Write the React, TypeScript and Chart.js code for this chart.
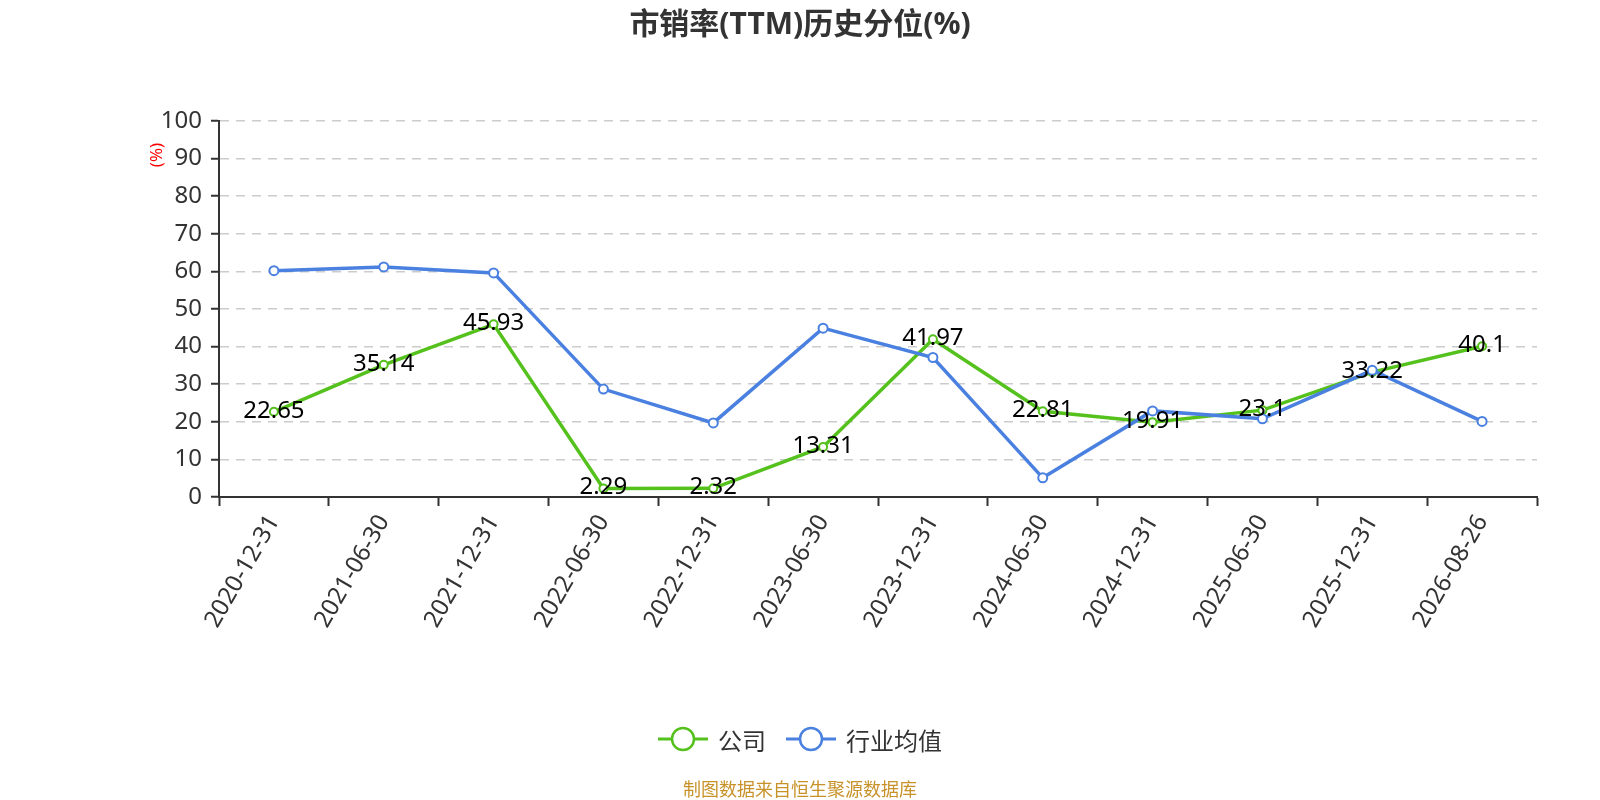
import { useEffect, useRef } from "react"
import { Chart, registerables, type ChartOptions, type Plugin } from "chart.js"
Chart.register(...registerables)

const DATES = [
  "2020-12-31", "2021-06-30", "2021-12-31", "2022-06-30", "2022-12-31", "2023-06-30",
  "2023-12-31", "2024-06-30", "2024-12-31", "2025-06-30", "2025-12-31", "2026-08-26",
]
// 公司
const COMPANY = [22.65, 35.14, 45.93, 2.29, 2.32, 13.31, 41.97, 22.81, 19.91, 23.1, 33.22, 40.1]
// 行业均值
const INDUSTRY = [60.2, 61.2, 59.6, 28.7, 19.7, 44.9, 37.1, 5.1, 22.9, 20.8, 33.7, 20.1]

const GREEN = "#55c11d"
const BLUE = "#4a80e0"
const FONT = "'Noto Sans', 'Noto Sans CJK SC', sans-serif"

// value labels on the company line + the red "(%)" unit next to the y axis
const labelsPlugin: Plugin<"line"> = {
  id: "pointLabels",
  afterDatasetsDraw(chart) {
    const { ctx } = chart
    const meta = chart.getDatasetMeta(0)
    ctx.save()
    ctx.font = `24px ${FONT}`
    ctx.fillStyle = "#000"
    ctx.textAlign = "center"
    ctx.textBaseline = "middle"
    meta.data.forEach((pt, i) => {
      ctx.fillText(String(COMPANY[i]), pt.x, pt.y - 1)
    })
    ctx.restore()

    ctx.save()
    ctx.translate(157, 155)
    ctx.rotate(-Math.PI / 2)
    ctx.font = `17px ${FONT}`
    ctx.fillStyle = "#ff0000"
    ctx.textAlign = "center"
    ctx.textBaseline = "middle"
    ctx.fillText("(%)", 0, 0)
    ctx.restore()
  },
}

function LegendIcon({ color }: { color: string }) {
  return (
    <svg width="50" height="28" style={{ display: "block" }}>
      <line x1="0" y1="14" x2="50" y2="14" stroke={color} strokeWidth="3" />
      <circle cx="25" cy="14" r="11" fill="#fff" stroke={color} strokeWidth="2.5" />
    </svg>
  )
}

export default function App() {
  const canvasRef = useRef<HTMLCanvasElement>(null)

  useEffect(() => {
    const canvas = canvasRef.current
    if (!canvas) return

    const options: ChartOptions<"line"> = {
      responsive: true,
      maintainAspectRatio: false,
      animation: false,
      layout: { padding: { left: 0, top: 121, right: 63, bottom: 0 } },
      plugins: {
        legend: { display: false },
        title: { display: false },
        tooltip: { enabled: false },
      },
      scales: {
        x: {
          type: "category",
          offset: true,
          afterFit: (s) => { s.height = 303 },
          grid: {
            offset: true,
            drawOnChartArea: false,
            drawTicks: true,
            tickLength: 9,
            tickColor: "#333",
            tickWidth: 2,
          },
          border: { color: "#333", width: 2 },
          ticks: {
            autoSkip: false,
            minRotation: 60,
            maxRotation: 60,
            padding: 4,
            color: "#333",
            font: { family: FONT, size: 24 },
          },
        },
        y: {
          min: 0,
          max: 100,
          afterFit: (s) => { s.width = 219 },
          grid: {
            color: "#cccccc",
            lineWidth: 1.5,
            tickColor: "#333",
            tickLength: 8,
            tickWidth: 2,
          },
          border: { color: "#333", width: 2, dash: [9, 7] },
          ticks: {
            stepSize: 10,
            padding: 9,
            color: "#333",
            font: { family: FONT, size: 24 },
          },
        },
      },
    }

    const chart = new Chart(canvas, {
      type: "line",
      data: {
        labels: DATES,
        datasets: [
          {
            label: "公司",
            data: COMPANY,
            borderColor: GREEN,
            borderWidth: 3.5,
            pointRadius: 4,
            pointBorderWidth: 2,
            pointBackgroundColor: "#fff",
            pointBorderColor: GREEN,
            tension: 0,
            order: 1,
          },
          {
            label: "行业均值",
            data: INDUSTRY,
            borderColor: BLUE,
            borderWidth: 3.5,
            pointRadius: 4.5,
            pointBorderWidth: 2,
            pointBackgroundColor: "#fff",
            pointBorderColor: BLUE,
            tension: 0,
            order: 0,
          },
        ],
      },
      options,
      plugins: [labelsPlugin],
    })

    return () => { chart.destroy() }
  }, [])

  return (
    <div
      style={{
        position: "absolute", left: 0, top: 0, width: 1600, height: 800,
        background: "#fff", fontFamily: FONT,
      }}
    >
      <canvas ref={canvasRef} role="img" aria-label="市销率(TTM)历史分位折线图" />
      <div
        style={{
          position: "absolute", top: 0, left: 0, width: 1600, height: 46, lineHeight: "46px",
          textAlign: "center", fontSize: 30, fontWeight: "bold", color: "#333",
        }}
      >
        市销率(TTM)历史分位(%)
      </div>
      <div
        style={{
          position: "absolute", top: 724, left: 658, height: 30, display: "flex",
          alignItems: "center", fontSize: 24, color: "#333",
        }}
      >
        <LegendIcon color={GREEN} />
        <span style={{ marginLeft: 10, marginRight: 20 }}>公司</span>
        <LegendIcon color={BLUE} />
        <span style={{ marginLeft: 10 }}>行业均值</span>
      </div>
      <div
        style={{
          position: "absolute", top: 777, left: 0, width: 1600, height: 24, lineHeight: "24px",
          textAlign: "center", fontSize: 18, color: "#c8922a",
        }}
      >
        制图数据来自恒生聚源数据库
      </div>
    </div>
  )
}
